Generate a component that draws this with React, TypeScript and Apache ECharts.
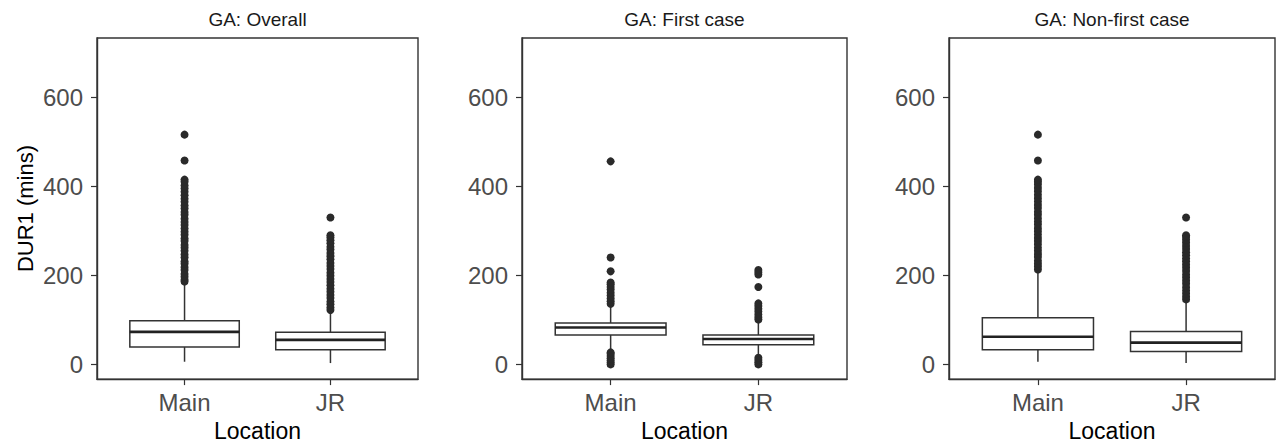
import React, { useEffect, useRef } from "react";
import * as echarts from "echarts";

const categories = ["Main", "JR"];
const panelTitles = ["GA: Overall", "GA: First case", "GA: Non-first case"];
const yTicks = [0, 200, 400, 600];

// box stats: [lowWhisker, Q1, median, Q3, highWhisker]
const overallMainBox = [6, 39, 73, 98, 184];
const overallJRBox = [3, 33, 55, 72, 120];
const firstMainBox = [30, 66, 83, 93, 131];
const firstJRBox = [19, 44, 57, 66, 98];
const nonFirstMainBox = [6, 33, 62, 105, 210];
const nonFirstJRBox = [3, 29, 49, 74, 142];

// outliers
const overallMainOut = [186, 190, 197, 203, 212, 218, 226, 231, 240, 247, 255, 262, 268, 277, 283, 291, 298, 305, 313, 320, 327, 336, 342, 350, 357, 365, 372, 380, 388, 395, 402, 410, 415, 458, 516];
const overallJROut = [122, 128, 135, 141, 149, 156, 163, 170, 178, 185, 192, 199, 206, 214, 221, 228, 236, 243, 250, 258, 264, 272, 279, 285, 290, 330];
const firstMainOut = [0, 4, 9, 14, 19, 24, 27, 136, 142, 148, 155, 161, 168, 174, 180, 184, 209, 240, 456];
const firstJROut = [0, 5, 10, 15, 101, 106, 112, 119, 125, 131, 137, 174, 202, 207, 212];
const nonFirstMainOut = [213, 220, 226, 233, 241, 248, 255, 262, 270, 277, 284, 292, 299, 306, 314, 321, 328, 336, 343, 351, 358, 366, 373, 381, 389, 396, 404, 410, 415, 458, 516];
const nonFirstJROut = [146, 152, 159, 166, 173, 181, 188, 195, 202, 210, 217, 224, 231, 238, 245, 252, 259, 266, 273, 280, 286, 290, 330];

const panels = [
  { boxes: [overallMainBox, overallJRBox], outs: [overallMainOut, overallJROut] },
  { boxes: [firstMainBox, firstJRBox], outs: [firstMainOut, firstJROut] },
  { boxes: [nonFirstMainBox, nonFirstJRBox], outs: [nonFirstMainOut, nonFirstJROut] },
];

const grids = [
  { left: 97, top: 38, width: 321, height: 342 },
  { left: 522, top: 38, width: 325, height: 342 },
  { left: 949, top: 38, width: 326, height: 342 },
];

const FONT = "Liberation Sans, Arial, sans-serif";
const LINE = "#333333";

export default function App() {
  const ref = useRef<HTMLDivElement>(null);
  useEffect(() => {
    if (!ref.current) return;
    const chart = echarts.init(ref.current, null, { renderer: "svg" });

    const grid = grids.map((g) => ({
      ...g,
      show: true,
      borderColor: LINE,
      borderWidth: 1.4,
      backgroundColor: "#ffffff",
      containLabel: false,
    }));

    const xAxis = grids.map((_, i) => ({
      type: "value",
      gridIndex: i,
      min: 0.4,
      max: 2.6,
      name: "Location",
      nameLocation: "middle",
      nameGap: 38,
      nameTextStyle: { color: "#000000", fontSize: 23, fontFamily: FONT },
      axisLine: { show: true, onZero: false, lineStyle: { color: LINE, width: 1.4 } },
      axisTick: { show: true, length: 6, customValues: [1, 2], lineStyle: { color: LINE, width: 1.2 } },
      axisLabel: {
        customValues: [1, 2],
        margin: 11,
        fontSize: 24,
        color: "#4d4d4d",
        fontFamily: FONT,
        formatter: (v: number) => categories[Math.round(v) - 1] ?? "",
      },
      splitLine: { show: false },
    }));

    const yAxis = grids.map((_, i) => ({
      type: "value",
      gridIndex: i,
      min: -33,
      max: 733,
      name: i === 0 ? "DUR1 (mins)" : "",
      nameLocation: "middle",
      nameGap: 61,
      nameTextStyle: { color: "#000000", fontSize: 22, fontFamily: FONT },
      axisLine: { show: true, onZero: false, lineStyle: { color: LINE, width: 1.4 } },
      axisTick: { show: true, length: 6, customValues: yTicks, lineStyle: { color: LINE, width: 1.2 } },
      axisLabel: {
        customValues: yTicks,
        margin: 14,
        fontSize: 24,
        color: "#4d4d4d",
        fontFamily: FONT,
      },
      splitLine: { show: false },
    }));

    const series: any[] = [];
    panels.forEach((p, i) => {
      series.push({
        type: "custom",
        xAxisIndex: i,
        yAxisIndex: i,
        encode: { x: 0, y: [1, 2, 3, 4, 5] },
        data: p.boxes.map((b, k) => [k + 1, ...b]),
        renderItem: (params: any, api: any) => {
          const x = api.value(0);
          const lo = api.coord([x, api.value(1)]);
          const q1 = api.coord([x, api.value(2)]);
          const med = api.coord([x, api.value(3)]);
          const q3 = api.coord([x, api.value(4)]);
          const hi = api.coord([x, api.value(5)]);
          const hw = api.size([0.75, 0])[0] / 2;
          const st = { stroke: LINE, lineWidth: 1.5, fill: null };
          return {
            type: "group",
            children: [
              { type: "line", shape: { x1: hi[0], y1: hi[1], x2: q3[0], y2: q3[1] }, style: st },
              { type: "line", shape: { x1: lo[0], y1: lo[1], x2: q1[0], y2: q1[1] }, style: st },
              {
                type: "rect",
                shape: { x: q3[0] - hw, y: q3[1], width: hw * 2, height: q1[1] - q3[1] },
                style: { stroke: LINE, lineWidth: 1.5, fill: "#ffffff" },
              },
              {
                type: "line",
                shape: { x1: med[0] - hw, y1: med[1], x2: med[0] + hw, y2: med[1] },
                style: { stroke: "#222222", lineWidth: 2.6 },
              },
            ],
          };
        },
      });
      series.push({
        type: "scatter",
        xAxisIndex: i,
        yAxisIndex: i,
        symbol: "circle",
        symbolSize: 8,
        itemStyle: { color: "#2a2a2a", opacity: 1 },
        data: p.outs.flatMap((arr, k) => arr.map((v) => [k + 1, v])),
        z: 3,
      });
    });

    chart.setOption({
      animation: false,
      backgroundColor: "#ffffff",
      grid,
      xAxis,
      yAxis,
      series,
      graphic: panelTitles.map((t, i) => ({
        type: "text",
        x: grids[i].left + grids[i].width / 2,
        y: 19,
        style: {
          text: t,
          align: "center",
          verticalAlign: "middle",
          fontSize: 19,
          fontFamily: FONT,
          fill: "#1a1a1a",
        },
      })),
    });
    return () => chart.dispose();
  }, []);
  return (
    <div
      ref={ref}
      style={{ position: "absolute", left: 0, top: 0, width: 1281, height: 447 }}
    />
  );
}
